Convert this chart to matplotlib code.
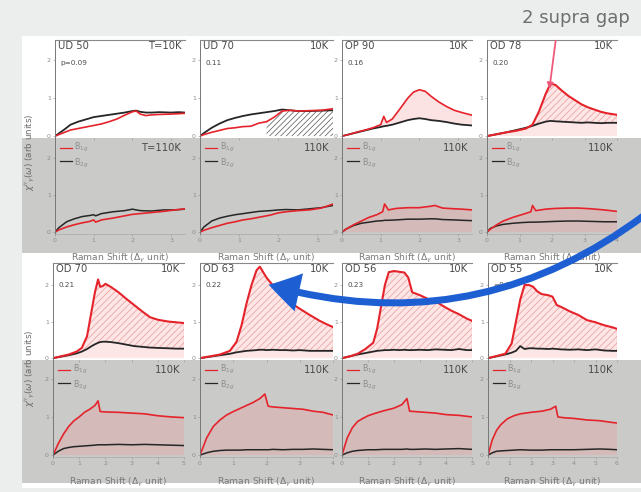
import matplotlib
matplotlib.use("Agg")
import matplotlib.pyplot as plt
from matplotlib.patches import Rectangle, FancyArrowPatch

plt.rcParams['hatch.linewidth'] = 0.5
plt.rcParams['font.family'] = ['DejaVu Sans']

W, H = 641, 492

# ---- samples -------------------------------------------------------------
samples = ["UD 50", "UD 70", "OP 90", "OD 78", "OD 70", "OD 63", "OD 56", "OD 55"]
dopings = ["p=0.09", "0.11", "0.16", "0.20", "0.21", "0.22", "0.23", "=0.23"]
x_max = [3.36, 3.4, 3.36, 4, 5, 4, 5, 6]
x_ticks = [[0, 1, 2, 3], [0, 1, 2, 3], [0, 1, 2, 3], [0, 1, 2, 3, 4],
           [0, 1, 2, 3, 4, 5], [0, 1, 2, 3, 4], [0, 1, 2, 3, 4, 5], [0, 1, 2, 3, 4, 5, 6]]

# ---- T = 10 K spectra (B1g red, B2g black) --------------------------------
ud50_10k_x = [0, 0.1, 0.25, 0.4, 0.6, 0.8, 1.0, 1.2, 1.4, 1.6, 1.8, 2.0, 2.1, 2.2, 2.35, 2.5, 2.7, 3.0, 3.2, 3.36]
ud50_10k_b2g = [0, 0.07, 0.18, 0.3, 0.38, 0.44, 0.5, 0.53, 0.56, 0.59, 0.62, 0.66, 0.67, 0.64, 0.62, 0.62, 0.63, 0.62, 0.63, 0.62]
ud50_10k_b1g = [0, 0.04, 0.1, 0.16, 0.2, 0.24, 0.28, 0.32, 0.38, 0.45, 0.55, 0.64, 0.66, 0.58, 0.54, 0.56, 0.57, 0.58, 0.59, 0.6]

ud70_10k_x = [0, 0.1, 0.3, 0.5, 0.7, 0.9, 1.1, 1.3, 1.5, 1.7, 1.9, 2.1, 2.3, 2.5, 2.8, 3.1, 3.4]
ud70_10k_b2g = [0, 0.08, 0.22, 0.33, 0.42, 0.48, 0.53, 0.57, 0.6, 0.63, 0.66, 0.7, 0.68, 0.66, 0.66, 0.67, 0.68]
ud70_10k_b1g = [0, 0.04, 0.1, 0.15, 0.2, 0.22, 0.25, 0.26, 0.34, 0.38, 0.5, 0.66, 0.68, 0.66, 0.67, 0.68, 0.72]

op90_10k_x = [0, 0.2, 0.4, 0.6, 0.8, 1.0, 1.08, 1.15, 1.3, 1.5, 1.7, 1.85, 2.0, 2.15, 2.3, 2.5, 2.7, 2.9, 3.1, 3.36]
op90_10k_b2g = [0, 0.05, 0.1, 0.15, 0.2, 0.24, 0.26, 0.27, 0.3, 0.36, 0.42, 0.45, 0.47, 0.45, 0.42, 0.4, 0.37, 0.33, 0.3, 0.28]
op90_10k_b1g = [0, 0.05, 0.11, 0.16, 0.22, 0.3, 0.52, 0.36, 0.45, 0.72, 1.0, 1.16, 1.22, 1.18, 1.05, 0.9, 0.78, 0.68, 0.62, 0.55]

od78_10k_x = [0, 0.3, 0.6, 0.9, 1.2, 1.4, 1.6, 1.8, 1.95, 2.1, 2.3, 2.5, 2.7, 2.9, 3.1, 3.3, 3.5, 3.7, 4.0]
od78_10k_b2g = [0, 0.05, 0.1, 0.16, 0.22, 0.27, 0.33, 0.38, 0.4, 0.39, 0.38, 0.37, 0.36, 0.35, 0.36, 0.35, 0.34, 0.35, 0.35]
od78_10k_b1g = [0, 0.05, 0.1, 0.14, 0.2, 0.3, 0.65, 1.1, 1.38, 1.35, 1.2, 1.06, 0.95, 0.84, 0.76, 0.7, 0.64, 0.6, 0.56]

od70_10k_x = [0, 0.3, 0.6, 0.9, 1.1, 1.3, 1.45, 1.6, 1.72, 1.8, 1.9, 2.0, 2.2, 2.5, 2.8, 3.1, 3.4, 3.7, 4.0, 4.4, 4.7, 5.0]
od70_10k_b2g = [0, 0.04, 0.08, 0.13, 0.18, 0.25, 0.32, 0.38, 0.42, 0.44, 0.45, 0.45, 0.44, 0.41, 0.37, 0.33, 0.31, 0.29, 0.28, 0.27, 0.26, 0.26]
od70_10k_b1g = [0, 0.05, 0.1, 0.18, 0.28, 0.6, 1.2, 1.8, 2.15, 1.95, 1.97, 2.03, 1.95, 1.8, 1.62, 1.45, 1.28, 1.12, 1.05, 1.0, 0.98, 0.96]

od63_10k_x = [0, 0.3, 0.6, 0.9, 1.1, 1.25, 1.4, 1.55, 1.7, 1.8, 1.9, 2.0, 2.2, 2.4, 2.6, 2.8, 3.0, 3.3, 3.6, 3.8, 4.0]
od63_10k_b2g = [0, 0.04, 0.08, 0.12, 0.16, 0.18, 0.2, 0.21, 0.22, 0.23, 0.23, 0.22, 0.23, 0.22, 0.22, 0.21, 0.22, 0.2, 0.2, 0.2, 0.2]
od63_10k_b1g = [0, 0.05, 0.1, 0.2, 0.45, 0.9, 1.5, 2.0, 2.4, 2.5, 2.35, 2.2, 1.98, 1.8, 1.62, 1.47, 1.35, 1.18, 1.02, 0.93, 0.85]

od56_10k_x = [0, 0.3, 0.6, 0.9, 1.2, 1.35, 1.5, 1.65, 1.8, 2.0, 2.2, 2.4, 2.55, 2.7, 3.0, 3.3, 3.6, 3.9, 4.2, 4.5, 4.8, 5.0]
od56_10k_b2g = [0, 0.05, 0.1, 0.14, 0.18, 0.2, 0.21, 0.22, 0.22, 0.23, 0.22, 0.23, 0.22, 0.22, 0.23, 0.22, 0.24, 0.23, 0.22, 0.25, 0.22, 0.22]
od56_10k_b1g = [0, 0.05, 0.12, 0.25, 0.42, 0.8, 1.4, 2.0, 2.35, 2.38, 2.36, 2.34, 2.2, 1.8, 1.72, 1.62, 1.55, 1.42, 1.3, 1.2, 1.08, 1.02]

od55_10k_x = [0, 0.4, 0.8, 1.1, 1.3, 1.5, 1.7, 1.9, 2.1, 2.3, 2.5, 2.8, 3.0, 3.2, 3.4, 3.8, 4.2, 4.6, 5.0, 5.4, 5.8, 6.0]
od55_10k_b2g = [0, 0.05, 0.1, 0.15, 0.2, 0.33, 0.25, 0.27, 0.27, 0.26, 0.26, 0.25, 0.26, 0.25, 0.24, 0.23, 0.24, 0.22, 0.24, 0.21, 0.2, 0.2]
od55_10k_b1g = [0, 0.06, 0.12, 0.4, 1.0, 1.6, 2.0, 2.0, 1.95, 1.82, 1.75, 1.72, 1.68, 1.45, 1.4, 1.28, 1.18, 1.04, 0.98, 0.9, 0.84, 0.8]

# ---- T = 110 K spectra ----------------------------------------------------
ud50_110k_x = [0, 0.1, 0.3, 0.5, 0.7, 0.9, 1.0, 1.05, 1.2, 1.5, 1.8, 2.0, 2.2, 2.5, 2.8, 3.1, 3.36]
ud50_110k_b2g = [0, 0.12, 0.28, 0.36, 0.42, 0.45, 0.47, 0.44, 0.5, 0.55, 0.58, 0.62, 0.58, 0.57, 0.6, 0.6, 0.62]
ud50_110k_b1g = [0, 0.06, 0.14, 0.2, 0.25, 0.29, 0.33, 0.27, 0.33, 0.38, 0.44, 0.48, 0.5, 0.53, 0.56, 0.6, 0.63]

ud70_110k_x = [0, 0.1, 0.3, 0.5, 0.7, 0.9, 1.1, 1.3, 1.5, 1.8, 2.0, 2.2, 2.5, 2.8, 3.1, 3.3, 3.4]
ud70_110k_b2g = [0, 0.14, 0.3, 0.38, 0.43, 0.47, 0.5, 0.53, 0.56, 0.58, 0.6, 0.61, 0.6, 0.63, 0.66, 0.7, 0.72]
ud70_110k_b1g = [0, 0.05, 0.12, 0.18, 0.24, 0.28, 0.33, 0.36, 0.4, 0.46, 0.52, 0.55, 0.58, 0.6, 0.65, 0.72, 0.76]

op90_110k_x = [0, 0.1, 0.3, 0.5, 0.7, 0.9, 1.05, 1.1, 1.2, 1.4, 1.7, 2.0, 2.3, 2.4, 2.6, 2.9, 3.1, 3.36]
op90_110k_b2g = [0, 0.08, 0.18, 0.24, 0.27, 0.3, 0.31, 0.32, 0.32, 0.33, 0.35, 0.35, 0.36, 0.36, 0.34, 0.33, 0.32, 0.31]
op90_110k_b1g = [0, 0.08, 0.2, 0.3, 0.4, 0.47, 0.55, 0.76, 0.6, 0.64, 0.66, 0.66, 0.7, 0.72, 0.65, 0.63, 0.62, 0.6]

od78_110k_x = [0, 0.1, 0.3, 0.5, 0.8, 1.1, 1.35, 1.4, 1.5, 1.8, 2.1, 2.5, 2.8, 3.2, 3.6, 4.0]
od78_110k_b2g = [0, 0.1, 0.17, 0.21, 0.24, 0.26, 0.27, 0.27, 0.27, 0.28, 0.29, 0.3, 0.3, 0.29, 0.28, 0.28]
od78_110k_b1g = [0, 0.08, 0.2, 0.3, 0.4, 0.48, 0.55, 0.72, 0.58, 0.62, 0.64, 0.65, 0.65, 0.63, 0.6, 0.56]

od70_110k_x = [0, 0.2, 0.4, 0.6, 0.8, 1.0, 1.2, 1.4, 1.6, 1.72, 1.8, 2.0, 2.5, 3.0, 3.5, 4.0, 4.5, 5.0]
od70_110k_b2g = [0, 0.1, 0.17, 0.2, 0.22, 0.23, 0.24, 0.25, 0.26, 0.27, 0.27, 0.27, 0.28, 0.27, 0.28, 0.27, 0.26, 0.25]
od70_110k_b1g = [0, 0.3, 0.55, 0.75, 0.9, 1.0, 1.12, 1.2, 1.3, 1.42, 1.14, 1.13, 1.12, 1.1, 1.08, 1.03, 1.0, 0.98]

od63_110k_x = [0, 0.2, 0.4, 0.6, 0.8, 1.0, 1.2, 1.4, 1.6, 1.8, 1.95, 2.05, 2.2, 2.5, 2.8, 3.1, 3.4, 3.7, 4.0]
od63_110k_b2g = [0, 0.06, 0.1, 0.12, 0.13, 0.13, 0.13, 0.14, 0.14, 0.14, 0.14, 0.14, 0.15, 0.14, 0.15, 0.15, 0.16, 0.15, 0.14]
od63_110k_b1g = [0, 0.45, 0.75, 0.92, 1.05, 1.14, 1.22, 1.3, 1.38, 1.48, 1.6, 1.28, 1.26, 1.24, 1.22, 1.2, 1.15, 1.12, 1.05]

od56_110k_x = [0, 0.2, 0.4, 0.6, 0.8, 1.0, 1.3, 1.6, 2.0, 2.3, 2.5, 2.6, 2.8, 3.2, 3.6, 4.0, 4.5, 5.0]
od56_110k_b2g = [0, 0.06, 0.1, 0.12, 0.13, 0.14, 0.14, 0.15, 0.15, 0.15, 0.16, 0.15, 0.15, 0.16, 0.15, 0.16, 0.17, 0.15]
od56_110k_b1g = [0, 0.45, 0.72, 0.88, 0.96, 1.03, 1.1, 1.16, 1.23, 1.32, 1.48, 1.15, 1.14, 1.12, 1.1, 1.06, 1.04, 1.0]

od55_110k_x = [0, 0.2, 0.4, 0.6, 0.9, 1.2, 1.5, 2.0, 2.5, 2.9, 3.15, 3.25, 3.5, 4.0, 4.6, 5.2, 5.7, 6.0]
od55_110k_b2g = [0, 0.06, 0.1, 0.11, 0.12, 0.13, 0.14, 0.13, 0.13, 0.14, 0.14, 0.14, 0.14, 0.14, 0.15, 0.16, 0.15, 0.14]
od55_110k_b1g = [0, 0.4, 0.65, 0.8, 0.95, 1.03, 1.08, 1.12, 1.15, 1.2, 1.28, 1.0, 0.98, 0.96, 0.92, 0.9, 0.86, 0.84]

low_T = [
    (ud50_10k_x, ud50_10k_b1g, ud50_10k_b2g), (ud70_10k_x, ud70_10k_b1g, ud70_10k_b2g),
    (op90_10k_x, op90_10k_b1g, op90_10k_b2g), (od78_10k_x, od78_10k_b1g, od78_10k_b2g),
    (od70_10k_x, od70_10k_b1g, od70_10k_b2g), (od63_10k_x, od63_10k_b1g, od63_10k_b2g),
    (od56_10k_x, od56_10k_b1g, od56_10k_b2g), (od55_10k_x, od55_10k_b1g, od55_10k_b2g),
]
high_T = [
    (ud50_110k_x, ud50_110k_b1g, ud50_110k_b2g), (ud70_110k_x, ud70_110k_b1g, ud70_110k_b2g),
    (op90_110k_x, op90_110k_b1g, op90_110k_b2g), (od78_110k_x, od78_110k_b1g, od78_110k_b2g),
    (od70_110k_x, od70_110k_b1g, od70_110k_b2g), (od63_110k_x, od63_110k_b1g, od63_110k_b2g),
    (od56_110k_x, od56_110k_b1g, od56_110k_b2g), (od55_110k_x, od55_110k_b1g, od55_110k_b2g),
]

# ---- layout (pixel boxes) -------------------------------------------------
col_px = [[(55, 185), (200, 333), (342, 472), (487, 617)],
          [(53, 184), (200, 333), (342, 472), (488, 617)]]
row_px = [((40, 138), (138, 234)), ((263, 360), (360, 457))]
ylims_top = [(-0.05, 2.53), (-0.05, 2.6)]
ylims_bot = [(-0.05, 2.54), (-0.05, 2.49)]
gray_bands = [(138, 253), (360, 483)]

RED = '#e5232b'
BLACK = '#262626'
TXT = '#4a4a4a'
LIGHT = '#8c8c8c'

fig = plt.figure(figsize=(W / 100, H / 100), dpi=100)
fig.patch.set_facecolor('#eceeee')


def box(x0, x1, y0, y1):
    return [x0 / W, 1 - y1 / H, (x1 - x0) / W, (y1 - y0) / H]


# white figure sheet and grey strips behind the 110 K panels
fig.add_artist(Rectangle((22 / W, 1 - 488 / H), (W - 22) / W, (488 - 36) / H,
                         transform=fig.transFigure, facecolor='white', edgecolor='none', zorder=-10))
for (g0, g1) in gray_bands:
    fig.add_artist(Rectangle((22 / W, 1 - g1 / H), (W - 22) / W, (g1 - g0) / H,
                             transform=fig.transFigure, facecolor='#cacac9', edgecolor='none', zorder=-9))


def style(ax, top):
    ax.set_facecolor('none')
    ax.spines['right'].set_visible(False)
    ax.spines['left'].set_color('#777')
    ax.spines['left'].set_linewidth(0.7)
    ax.spines['top'].set_visible(top)
    ax.spines['top'].set_color('#888')
    ax.spines['top'].set_linewidth(0.8)
    ax.spines['bottom'].set_color('#aaa')
    ax.spines['bottom'].set_linewidth(0.5)
    ax.spines['bottom'].set_visible(not top)
    ax.tick_params(axis='both', length=1.5, width=0.4, colors=LIGHT, labelsize=4.5, pad=1.5)
    ax.set_yticks([0, 1, 2])


for i in range(8):
    r, c = divmod(i, 4)
    x0, x1 = col_px[r][c]
    (t0, t1), (b0, b1) = row_px[r]
    od = i >= 3

    # ---- 10 K panel ----
    ax = fig.add_axes(box(x0, x1, t0, t1))
    style(ax, True)
    x, b1g, b2g = low_T[i]
    ax.set_xlim(0, x_max[i])
    ax.set_ylim(*ylims_top[r])
    ax.set_xticks(x_ticks[i])
    ax.tick_params(axis='x', labelbottom=False)
    if i == 1:
        ax.fill_between(x, 0, [min(a, b) for a, b in zip(b1g, b2g)],
                        where=[v >= 1.7 for v in x], facecolor='none',
                        hatch='//////', edgecolor='#555', linewidth=0)
    elif i == 2:
        ax.fill_between(x, b2g, b1g, where=[a >= b for a, b in zip(b1g, b2g)],
                        facecolor='#fbe3e3', edgecolor='none', linewidth=0, interpolate=True)
    elif od:
        ax.fill_between(x, 0, b1g, facecolor='#fde6e6', edgecolor='none', linewidth=0)
        ax.fill_between(x, b2g, b1g, where=[a >= b for a, b in zip(b1g, b2g)],
                        facecolor='none', hatch='/////', edgecolor='#ee9a9a',
                        linewidth=0, interpolate=True)
        ax.plot([x[-1], x[-1]], [b2g[-1], b1g[-1]], color=RED, lw=0.8)
    ax.plot(x, b2g, color=BLACK, lw=1.3)
    ax.plot(x, b1g, color=RED, lw=1.5 if od else 1.2)
    ax.text(0.02, 0.985, samples[i], transform=ax.transAxes, ha='left', va='top',
            fontsize=7.2, color=TXT)
    ax.text(0.04, 0.80, dopings[i], transform=ax.transAxes, ha='left', va='top',
            fontsize=5.2, color=TXT)
    ax.text(0.97, 0.985, 'T=10K' if i == 0 else '10K', transform=ax.transAxes,
            ha='right', va='top', fontsize=7.2, color=TXT)

    # ---- 110 K panel ----
    ax = fig.add_axes(box(x0, x1, b0, b1))
    style(ax, False)
    x, b1g, b2g = high_T[i]
    ax.set_xlim(0, x_max[i])
    ax.set_ylim(*ylims_bot[r])
    ax.set_xticks(x_ticks[i])
    if i >= 2:
        ax.fill_between(x, 0, b1g, facecolor='#e8a0a0', alpha=0.35, edgecolor='none', linewidth=0)
    ax.plot(x, b2g, color=BLACK, lw=1.1)
    ax.plot(x, b1g, color=RED, lw=1.2)
    ax.plot([0.04, 0.13], [0.9, 0.9], transform=ax.transAxes, color=RED, lw=0.9)
    ax.plot([0.04, 0.13], [0.76, 0.76], transform=ax.transAxes, color=BLACK, lw=0.9)
    ax.text(0.15, 0.9, r'B$_{1g}$', transform=ax.transAxes, ha='left', va='center',
            fontsize=5.8, color=LIGHT)
    ax.text(0.15, 0.74, r'B$_{2g}$', transform=ax.transAxes, ha='left', va='center',
            fontsize=5.8, color=LIGHT)
    ax.text(0.97, 0.95, 'T=110K' if i == 0 else '110K', transform=ax.transAxes,
            ha='right', va='top', fontsize=7.2, color=TXT)
    ax.text(0.5, -0.19, r'Raman Shift ($\Delta_\gamma$ unit)', transform=ax.transAxes,
            ha='center', va='top', fontsize=6.6, color='#7a7a7a')

# y-axis captions
for yc in (152, 368):
    fig.text(30 / W, 1 - yc / H, r"$\chi''_{\gamma}(\omega)$ (arb units)", rotation=90,
             ha='center', va='center', fontsize=6.3, color='#6a6a6a')

# slide annotations
fig.text(576 / W, 1 - 18 / H, '2 supra gap', ha='center', va='center',
         fontsize=13, color='#6e6e6e')
fig.add_artist(FancyArrowPatch((556 / W, 1 - 38 / H), (549 / W, 1 - 92 / H),
                               transform=fig.transFigure, arrowstyle='-|>',
                               mutation_scale=9, color='#ef5a7a', lw=1.3, zorder=20))
fig.add_artist(FancyArrowPatch((646 / W, 1 - 214 / H), (266 / W, 1 - 284 / H),
                               transform=fig.transFigure, connectionstyle='arc3,rad=-0.25',
                               arrowstyle='simple,head_length=1.6,head_width=2.0,tail_width=0.36',
                               mutation_scale=14, facecolor='#1d5fd3', edgecolor='none',
                               zorder=20))

fig.savefig('out.png', dpi=100)
